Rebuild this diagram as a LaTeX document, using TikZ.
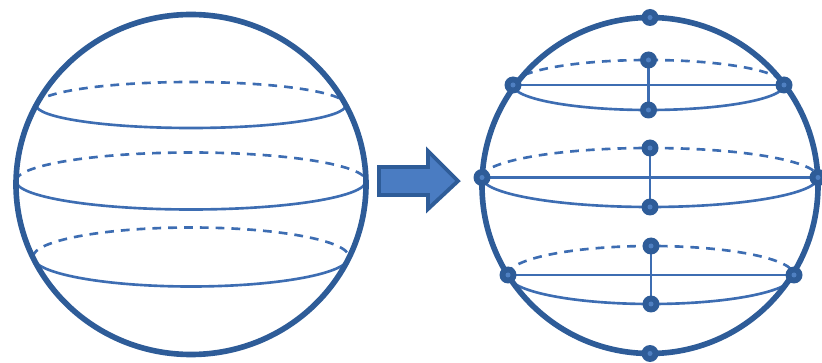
\documentclass[tikz,border=0pt]{standalone}
\usepackage{tikz}
\usetikzlibrary{calc}

\definecolor{sphereblue}{HTML}{2E5C98}
\definecolor{ringblue}{HTML}{3D6DB2}
\definecolor{arrowfill}{HTML}{4A7CC2}
\definecolor{dotcore}{HTML}{4F80C2}

\begin{document}
\begin{tikzpicture}[x=0.02cm, y=0.02cm,
    shell/.style={draw=sphereblue, line width=3.2pt},
    ring/.style={draw=ringblue, line width=1.5pt},
    hidden/.style={draw=ringblue, line width=1.5pt, dash pattern=on 5pt off 4pt}]

    \useasboundingbox (0,0) rectangle (822,362);

    % left sphere
    \coordinate (L) at (191,177.5);
    \coordinate (La) at (36,257);
    \coordinate (Lb) at (16,181);
    \coordinate (Lc) at (33,105);

    \draw[hidden] (La) arc[start angle=180, end angle=0, x radius=155, y radius=23];
    \draw[ring] (La) arc[start angle=180, end angle=360, x radius=155, y radius=23];
    \draw[hidden] (Lb) arc[start angle=180, end angle=0, x radius=175, y radius=28.5];
    \draw[ring] (Lb) arc[start angle=180, end angle=360, x radius=175, y radius=28.5];
    \draw[hidden] (Lc) arc[start angle=180, end angle=0, x radius=158, y radius=29.5];
    \draw[ring] (Lc) arc[start angle=180, end angle=360, x radius=158, y radius=29.5];

    \draw[shell] (L) ellipse [x radius=175, y radius=170];

    % arrow
    \draw[fill=arrowfill, draw=sphereblue, line width=2.2pt, line join=miter]
        (379,195) -- (428,195) -- (428,211) -- (458,181) -- (428,153)
        -- (428,167) -- (379,167) -- cycle;

    % right sphere
    \coordinate (R) at (650,176.5);
    \coordinate (N) at (650,344.5);
    \coordinate (S) at (650,8.5);

    \coordinate (A1) at (513,277);
    \coordinate (B1) at (784,277);
    \coordinate (T1) at (648.5,302);
    \coordinate (U1) at (648.5,252);

    \coordinate (A2) at (482,184.5);
    \coordinate (B2) at (818,184.5);
    \coordinate (T2) at (650,214);
    \coordinate (U2) at (650,155);

    \coordinate (A3) at (508,87);
    \coordinate (B3) at (794,87);
    \coordinate (T3) at (651,116);
    \coordinate (U3) at (651,58);

    \draw[hidden] (A1) arc[start angle=180, end angle=0, x radius=135.5, y radius=25];
    \draw[ring] (A1) arc[start angle=180, end angle=360, x radius=135.5, y radius=25];
    \draw[hidden] (A2) arc[start angle=180, end angle=0, x radius=168, y radius=29.5];
    \draw[ring] (A2) arc[start angle=180, end angle=360, x radius=168, y radius=29.5];
    \draw[hidden] (A3) arc[start angle=180, end angle=0, x radius=143, y radius=29];
    \draw[ring] (A3) arc[start angle=180, end angle=360, x radius=143, y radius=29];

    \draw[ring] (A1) -- (B1);
    \draw[ring] (A2) -- (B2);
    \draw[ring] (A3) -- (B3);
    \draw[ring] (T1) -- (U1);
    \draw[ring] (T2) -- (U2);
    \draw[ring] (T3) -- (U3);

    \draw[shell] (R) circle (168);

    \foreach \p in {N, S, A1, B1, T1, U1, A2, B2, T2, U2, A3, B3, T3, U3} {
        \fill[sphereblue] (\p) circle (8.5);
        \fill[dotcore] (\p) circle (2.5);
    }
\end{tikzpicture}
\end{document}
